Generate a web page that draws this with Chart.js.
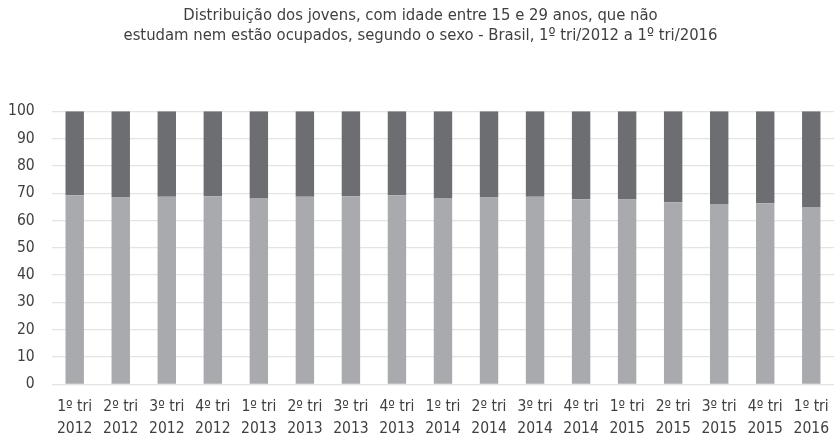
<!DOCTYPE html>
<html>
<head>
<meta charset="utf-8">
<script src="https://cdn.jsdelivr.net/npm/chart.js@4/dist/chart.umd.min.js"></script>
<style>
  html, body { margin: 0; padding: 0; background: #fff; overflow: hidden; }
  #wrap { width: 841px; height: 437px; }
</style>
</head>
<body>
<div id="wrap"><canvas id="chart"></canvas></div>
<script>
// categorias (trimestres)
const trimestres = [
    ['1º tri', '2012'], ['2º tri', '2012'], ['3º tri', '2012'], ['4º tri', '2012'],
    ['1º tri', '2013'], ['2º tri', '2013'], ['3º tri', '2013'], ['4º tri', '2013'],
    ['1º tri', '2014'], ['2º tri', '2014'], ['3º tri', '2014'], ['4º tri', '2014'],
    ['1º tri', '2015'], ['2º tri', '2015'], ['3º tri', '2015'], ['4º tri', '2015'],
    ['1º tri', '2016']
];

// % mulheres (parte inferior, cinza claro)
const mulheres = [69.2, 68.4, 68.7, 68.9, 68.2, 68.7, 68.9, 69.2, 68.2, 68.4, 68.7, 67.8, 67.7, 66.7, 66.0, 66.3, 64.9];
// % homens (parte superior, cinza escuro)
const homens = [30.8, 31.6, 31.3, 31.1, 31.8, 31.3, 31.1, 30.8, 31.8, 31.6, 31.3, 32.2, 32.3, 33.3, 34.0, 33.7, 35.1];

const titulo = [
    'Distribuição dos jovens, com idade entre 15 e 29 anos, que não',
    'estudam nem estão ocupados, segundo o sexo - Brasil, 1º tri/2012 a 1º tri/2016'
];

const fonte = '"Liberation Sans Narrow", "DejaVu Sans Condensed", "Roboto", sans-serif';
const corTexto = '#404040';

const ctx = document.getElementById('chart').getContext('2d');
window.chart = new Chart(ctx, {
    type: 'bar',
    data: {
        labels: trimestres,
        datasets: [
            {
                label: 'Mulheres',
                data: mulheres,
                backgroundColor: '#a9aaad',
                barPercentage: 0.4,
                categoryPercentage: 1.0
            },
            {
                label: 'Homens',
                data: homens,
                backgroundColor: '#6d6e72',
                barPercentage: 0.4,
                categoryPercentage: 1.0
            }
        ]
    },
    options: {
        responsive: true,
        maintainAspectRatio: false,
        animation: false,
        layout: { padding: { left: 0, right: 0, top: 0, bottom: 0 } },
        plugins: {
            legend: { display: false },
            tooltip: { enabled: false },
            title: {
                display: true,
                text: titulo,
                color: corTexto,
                font: { family: fonte, size: 16.5, weight: 'normal', lineHeight: 1.25 },
                padding: { top: 5, bottom: 65 }
            }
        },
        scales: {
            x: {
                stacked: true,
                grid: { display: false, drawTicks: false },
                border: { display: false },
                ticks: {
                    color: corTexto,
                    font: { family: fonte, size: 15.5, lineHeight: 1.4 },
                    padding: 12,
                    maxRotation: 0,
                    autoSkip: false
                },
                afterFit(scale) { scale.height = 52.7; }
            },
            y: {
                stacked: true,
                min: 0,
                max: 100,
                grid: { color: '#e4e4e4', lineWidth: 1.3, drawTicks: false },
                border: { display: false },
                ticks: {
                    stepSize: 10,
                    color: corTexto,
                    font: { family: fonte, size: 15.5 },
                    padding: 17
                },
                afterFit(scale) { scale.width = 51.7; }
            }
        }
    }
});
</script>
</body>
</html>
